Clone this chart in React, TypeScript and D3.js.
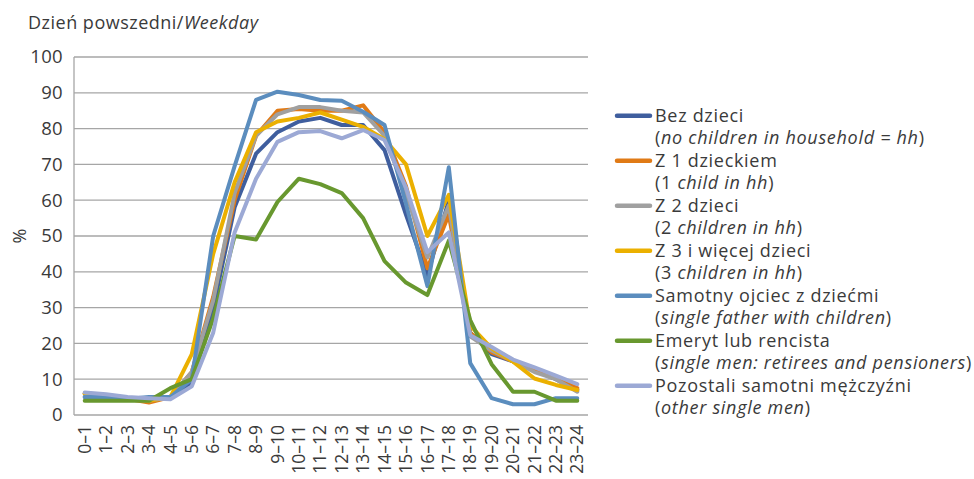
import React from "react";
import * as d3 from "d3";

const hours = ["0–1","1–2","2–3","3–4","4–5","5–6","6–7","7–8","8–9","9–10","10–11","11–12","12–13","13–14","14–15","15–16","16–17","17–18","18–19","19–20","20–21","21–22","22–23","23–24"];

const yTicks = [0, 10, 20, 30, 40, 50, 60, 70, 80, 90, 100];

const bezDzieci = [5, 5, 4.5, 4.5, 5, 9, 30, 58, 73, 79, 82, 83, 81, 81, 74, 56, 39, 60, 23, 17, 15, 12.5, 10, 7];
const z1Dzieckiem = [6, 5, 4.5, 3.5, 5, 12, 33, 60, 78, 85, 85.5, 85, 85, 86.5, 79, 64, 41, 56, 23, 17.5, 15, 13, 10.3, 7.5];
const z2Dzieci = [6, 5, 4.5, 4, 5, 12, 32, 62, 78, 84, 86, 86, 85, 84.5, 78, 62, 44, 58.5, 22, 18, 15, 12, 10, 6.5];
const z3Dzieci = [6, 5, 4.5, 4, 5, 17, 45, 65, 79, 82, 83, 84.5, 82.5, 80.5, 77, 70, 50, 61.5, 25, 18.6, 14.9, 10.2, 8.4, 7];
const samotnyOjciec = [5, 5, 4.5, 5, 5, 10, 50, 69.5, 88, 90.3, 89.4, 88, 87.8, 84.7, 81, 59, 36, 69.2, 14.5, 4.7, 3, 3, 4.7, 4.7];
const emeryt = [4, 4, 4, 4, 7.5, 10, 27, 50, 49, 59.5, 66, 64.5, 62, 55, 43, 37, 33.5, 48.7, 26.5, 14.2, 6.5, 6.5, 4, 4];
const pozostali = [6.3, 5.8, 5, 4.7, 4.4, 8, 23, 51, 66, 76.3, 79, 79.3, 77.3, 79.6, 76.8, 63.5, 45.5, 51, 22.3, 19, 15.5, 13.3, 11, 8.6];

const seriesNames = [
  ["Bez dzieci", "", "no children in household = hh", ""],
  ["Z 1 dzieckiem", "1 ", "child in hh", ""],
  ["Z 2 dzieci", "2 ", "children in hh", ""],
  ["Z 3 i więcej dzieci", "3 ", "children in hh", ""],
  ["Samotny ojciec z dziećmi", "", "single father with children", ""],
  ["Emeryt lub rencista", "", "single men: retirees and pensioners", ""],
  ["Pozostali samotni mężczyźni", "", "other single men", ""],
];
const seriesValues = [bezDzieci, z1Dzieckiem, z2Dzieci, z3Dzieci, samotnyOjciec, emeryt, pozostali];
const seriesColors = ["#3F5E9E", "#E07A16", "#A0A0A0", "#EBB000", "#5B8DBE", "#68982F", "#9CA9D5"];

const W = 974, H = 479;
const left = 74, right = 588, top = 57, bottom = 415;
const FONT = "'Open Sans', sans-serif";
const TXT = "#3a3a3a";

export default function App() {
  const x = d3.scalePoint<string>().domain(hours).range([left, right]).padding(0.5);
  const y = d3.scaleLinear().domain([0, 100]).range([bottom, top]);
  const line = d3.line<number>().x((_, i) => x(hours[i]) as number).y((d) => y(d));

  const legX = 617, legTextX = 655, legY0 = 115.7, legStep = 45, legLine = 22;

  return (
    <svg width={W} height={H} style={{ position: "absolute", left: 0, top: 0, background: "#fff" }} fontFamily={FONT}>
      <text x={28} y={29} fontSize={18} letterSpacing={0.5} fill={TXT}>
        Dzień powszedni/<tspan fontStyle="italic">Weekday</tspan>
      </text>
      {yTicks.map((t) => (
        <g key={t}>
          {t > 0 && <line x1={left} x2={right} y1={y(t)} y2={y(t)} stroke="#A6A6A6" strokeWidth={1.3} />}
          <text x={63} y={y(t)} dy="0.35em" textAnchor="end" fontSize={18.5} letterSpacing={0.3} fill={TXT}>{t}</text>
        </g>
      ))}
      <line x1={left} x2={left} y1={top} y2={bottom} stroke="#A6A6A6" strokeWidth={1.3} />
      <line x1={left} x2={right} y1={bottom} y2={bottom} stroke="#A6A6A6" strokeWidth={1.3} />
      <text transform={`translate(20,${y(50)}) rotate(-90)`} textAnchor="middle" dy="0.35em" fontSize={18} fill={TXT}>%</text>
      {hours.map((h) => (
        <text key={h} transform={`translate(${x(h)},425) rotate(-90)`} textAnchor="end" dy="0.35em" fontSize={17.5} fill={TXT}>{h}</text>
      ))}
      {seriesValues.map((vals, i) => (
        <path key={i} d={line(vals) || ""} fill="none" stroke={seriesColors[i]} strokeWidth={4} strokeLinejoin="round" strokeLinecap="round" />
      ))}
      {seriesNames.map((n, i) => {
        const cy = legY0 + i * legStep;
        return (
          <g key={i}>
            <line x1={legX} x2={legX + 33} y1={cy} y2={cy} stroke={seriesColors[i]} strokeWidth={4.5} strokeLinecap="round" />
            <text x={legTextX} y={cy} dy="0.35em" fontSize={18} letterSpacing={0.7} fill={TXT}>{n[0]}</text>
            <text x={legTextX} y={cy + legLine} dy="0.35em" fontSize={18} letterSpacing={0.7} fill={TXT}>
              ({n[1]}<tspan fontStyle="italic">{n[2]}</tspan>)
            </text>
          </g>
        );
      })}
    </svg>
  );
}
